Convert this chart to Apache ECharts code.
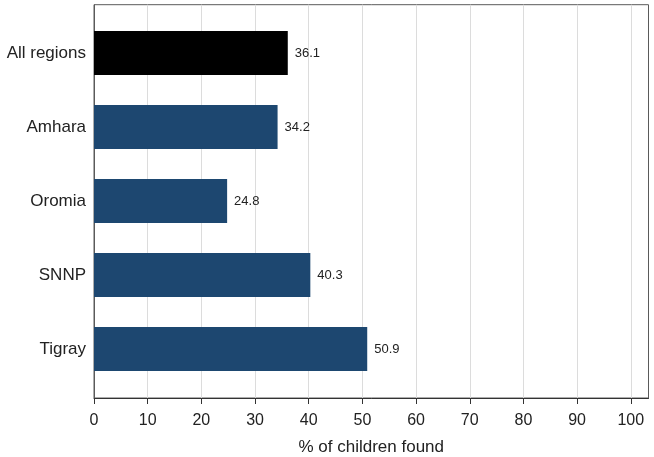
<!DOCTYPE html>
<html>
<head>
<meta charset="utf-8">
<script src="https://cdn.jsdelivr.net/npm/echarts@6/dist/echarts.min.js"></script>
<style>
  html, body { margin: 0; padding: 0; background: #fff; }
  #chart { width: 654px; height: 457px; }
</style>
</head>
<body>
<div id="chart"></div>
<script>
  // data
  const regions = ['All regions', 'Amhara', 'Oromia', 'SNNP', 'Tigray'];
  const found = [36.1, 34.2, 24.8, 40.3, 50.9];
  const barColors = ['#000000', '#1d4770', '#1d4770', '#1d4770', '#1d4770'];
  const xTicks = [0, 10, 20, 30, 40, 50, 60, 70, 80, 90, 100];

  const font = 'Liberation Sans, Arial, sans-serif';
  const xMax = 103.3;

  let myChart = echarts.init(document.getElementById('chart'));

  let option = {
    backgroundColor: '#fff',
    animation: false,
    grid: [
      // frame + x axis
      { left: 94, right: 5.5, top: 4.7, bottom: 59, outerBoundsMode: 'none', containLabel: false,
        show: true, borderColor: '#5a5a5a', borderWidth: 1, backgroundColor: 'transparent' },
      // bars
      { left: 94, right: 5.5, top: 16, bottom: 71, outerBoundsMode: 'none', containLabel: false }
    ],
    xAxis: [
      {
        gridIndex: 0,
        type: 'value',
        min: 0,
        max: xMax,
        interval: 10,
        name: '% of children found',
        nameLocation: 'middle',
        nameGap: 41,
        nameTextStyle: { fontFamily: font, fontSize: 17, color: '#222' },
        axisLine: { show: true, lineStyle: { color: '#333', width: 1 } },
        axisTick: { show: true, length: 6, lineStyle: { color: '#333' }, customValues: xTicks },
        axisLabel: { fontFamily: font, fontSize: 16, color: '#222', margin: 15, customValues: xTicks },
        splitLine: { show: true, lineStyle: { color: '#dcdcdc', width: 1 } }
      },
      {
        gridIndex: 1,
        type: 'value',
        min: 0,
        max: xMax,
        show: false
      }
    ],
    yAxis: [
      {
        gridIndex: 0,
        type: 'value',
        min: 0,
        max: 1,
        axisLine: { show: true, lineStyle: { color: '#5a5a5a' } },
        axisTick: { show: false },
        axisLabel: { show: false },
        splitLine: { show: false }
      },
      {
        gridIndex: 1,
        type: 'category',
        inverse: true,
        data: regions,
        axisLine: { show: false },
        axisTick: { show: false },
        axisLabel: { fontFamily: font, fontSize: 17, color: '#222', margin: 8 },
        splitLine: { show: false }
      }
    ],
    series: [
      {
        type: 'bar',
        xAxisIndex: 1,
        yAxisIndex: 1,
        barWidth: 44,
        data: found.map((v, i) => ({ value: v, itemStyle: { color: barColors[i] } })),
        label: {
          show: true,
          position: 'right',
          distance: 7,
          fontFamily: font,
          fontSize: 13,
          color: '#222',
          formatter: p => p.value.toFixed(1)
        }
      }
    ]
  };

  myChart.setOption(option);
</script>
</body>
</html>
